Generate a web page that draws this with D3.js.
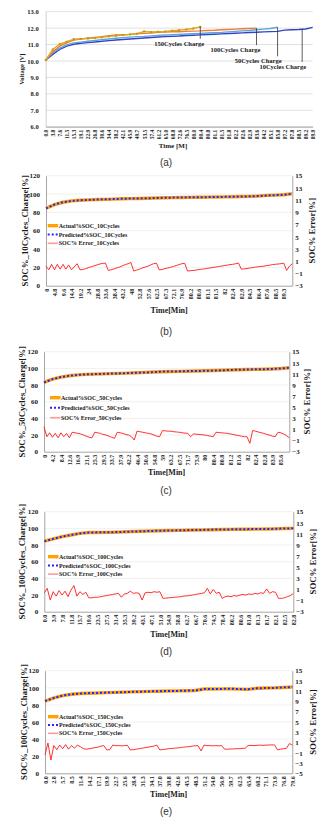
<!DOCTYPE html>
<html>
<head>
<meta charset="utf-8">
<script src="https://cdn.jsdelivr.net/npm/d3@7"></script>
<style>
  body { margin: 0; background: #fff; }
  svg { display: block; }
  text { font-family: "Liberation Serif", "Times New Roman", serif; font-weight: bold; fill: #1a1a1a; }
  text.cap { font-family: "Liberation Sans", Arial, sans-serif; font-weight: normal; fill: #333; }
</style>
</head>
<body>
<script>
// ---- (a) charging voltage, one value per category ----
const voltCats = ["0.0","3.8","7.6","11.5","15.3","19.1","22.9","26.8","30.6","34.4","38.2","42.1","45.9","49.7","53.5","57.4","61.2","65.0","68.8","72.6","76.5","80.0","80.4","80.8","81.1","81.5","81.8","82.2","82.6","82.9","83.6","84.2","85.1","85.8","87.2","87.8","88.5","89.2","89.9"];
const volt10 = [10.05,10.4,10.7,10.9,11.02,11.08,11.12,11.16,11.2,11.24,11.28,11.31,11.34,11.37,11.4,11.43,11.46,11.48,11.5,11.52,11.55,11.57,11.59,11.61,11.63,11.65,11.67,11.69,11.71,11.73,11.75,11.77,11.79,11.8,11.88,11.9,11.92,11.95,12.05];
const volt50 = [10.05,10.5,10.78,10.98,11.1,11.15,11.2,11.25,11.3,11.34,11.38,11.42,11.45,11.48,11.5,11.53,11.56,11.58,11.6,11.62,11.64,11.66,11.68,11.7,11.72,11.74,11.77,11.8,11.83,11.86,11.9,11.94,11.98,12.05];
const volt100 = [10.05,10.56,10.9,11.1,11.27,11.33,11.4,11.44,11.48,11.54,11.58,11.6,11.62,11.66,11.68,11.7,11.74,11.76,11.78,11.78,11.8,11.82,11.83,11.86,11.87,11.9,11.92,11.94,11.96,11.98,12.0];
const volt150 = [10.05,10.7,11.03,11.17,11.33,11.35,11.37,11.4,11.44,11.5,11.54,11.58,11.62,11.66,11.8,11.76,11.78,11.8,11.84,11.88,11.92,11.98,12.08];
const voltNotes = ["150Cycles Charge","100Cycles Charge","50Cycles Charge","10Cycles Charge"];
const voltNoteAt = [22, 30, 33, 36.5];   // category index the note points at

// ---- (b)-(e) SOC: SOC sampled every socStep error samples ----
const socStep = 3;

const cats10 = ["0","4.8","9.6","14.4","19.2","24","28.8","33.6","38.4","43.2","48","52.8","57.6","62.5","67.3","72.1","76.9","80.2","80.6","81.1","81.5","82","82.4","82.9","84.5","86.4","87.6","88.5","89.3"];
const act10 = [84.5,88.5,91,92.5,93.2,93.6,94,94.2,94.5,94.8,95,95.2,95.4,95.7,96,96.1,96.2,96.4,96.5,96.6,96.8,96.9,97,97.3,97.5,97.8,98.5,98.8,99.2,100.5];
const pred10 = [84.3,88.6,91.1,92.4,93.3,93.6,94.0,94.3,94.5,94.8,95.1,95.2,95.4,95.7,95.9,96.1,96.3,96.4,96.5,96.6,96.8,96.9,97.0,97.3,97.5,97.8,98.4,98.8,99.2,100.3];
const err10 = [0.2,-0.4,0.5,-0.4,0.5,-0.3,0.5,-0.3,0.4,
  -0.4,0.1,0.6,-0.4,
  -0.35,-0.2,-0.05,0.1,0.25,0.4,0.55,0.65,0.7,-0.5,
  -0.4,-0.25,-0.1,0.05,0.25,0.45,0.6,0.8,-0.6,
  -0.45,-0.3,-0.1,0.05,0.2,0.4,0.6,0.7,-0.4,
  -0.35,-0.2,-0.1,0.0,0.15,0.3,0.45,0.6,0.65,-0.6,
  -0.55,-0.5,-0.45,-0.35,-0.3,-0.25,-0.15,-0.1,0.0,0.05,0.15,0.2,0.3,0.35,0.45,0.5,0.6,0.7,-0.3,
  -0.25,-0.2,-0.1,-0.05,0.05,0.1,0.15,0.2,0.3,0.35,0.45,0.5,0.55,0.6,0.7,
  -0.5,0.2,0.6];

const cats50 = ["0","4.2","8.4","12.6","16.9","21.1","25.3","29.5","33.7","37.9","42.2","46.4","50.6","54.8","59","63.2","67.5","71.7","75.9","80","80.4","80.8","81.2","81.6","82","82.4","82.8","83.9","85.6"];
const act50 = [83.2,87,89.5,91.2,92.2,92.8,93.1,93.4,93.7,94,94.3,94.8,95.2,95.6,96,96.2,96.4,96.6,96.8,97.1,97.4,97.7,98,98.3,98.6,98.8,99,99.3,99.8,100.8];
const pred50 = [83.0,87.1,89.6,91.1,92.2,92.9,93.1,93.4,93.8,94,94.4,94.8,95.1,95.6,96.1,96.2,96.4,96.7,96.8,97.1,97.3,97.7,98.1,98.3,98.6,98.9,99,99.3,99.9,100.7];
const err50 = [1.5,-0.3,0.4,-0.4,0.3,-0.5,0.4,-0.3,0.3,-0.5,
  0.5,0.4,0.3,0.2,0.0,-0.2,-0.4,-0.5,
  0.5,0.4,0.3,0.1,0.0,-0.2,-0.4,-0.6,
  0.5,0.4,0.3,0.1,0.0,-0.3,-0.9,
  0.7,0.6,0.5,0.4,0.3,0.2,0.0,-0.2,-0.3,
  0.8,0.75,0.7,0.7,0.6,0.55,0.5,0.4,0.35,0.3,-0.3,0.2,0.15,0.1,0.05,0.0,-0.1,-0.2,-0.3,
  0.5,0.45,0.4,0.35,0.3,0.2,0.1,0.0,-0.1,-0.2,-0.3,-0.3,-1.5,
  0.8,0.7,0.55,0.4,0.3,0.1,0.0,-0.2,-0.3,
  0.5,0.4,0.2,-0.1,-0.5];

const cats100 = ["0.0","3.9","7.8","11.8","15.7","19.6","23.5","27.5","31.4","35.3","39.2","43.1","47.1","51.0","54.9","58.8","62.7","66.7","70.6","74.5","78.4","80.2","80.6","81.0","81.3","81.7","82.1","82.5","82.8"];
const act100 = [84.6,87.3,90,92,94,95,95.1,95.2,95.4,95.8,96.2,96.6,96.9,97.1,97.4,97.6,97.8,98,98.2,98.4,98.6,98.8,98.9,99,99.1,99.2,99.4,99.8,100];
const pred100 = [84.4,87.4,90.1,92,93.9,95,95.2,95.2,95.5,95.8,96.2,96.5,96.9,97.2,97.4,97.6,97.9,98,98.2,98.5,98.6,98.8,98.9,99.1,99.1,99.2,99.5,99.8,100.1];
const err100 = [0.4,1.2,-0.9,0.6,-0.2,0.8,0.0,0.7,-0.3,0.9,1.7,-0.2,0.6,0.1,0.5,
  -0.5,-0.5,-0.4,-0.4,-0.3,-0.2,-0.1,0.0,0.1,0.2,0.3,
  -0.4,0.2,0.3,0.7,0.3,0.4,0.3,-0.9,
  0.4,0.5,0.4,0.6,0.5,0.6,
  -0.6,-0.55,-0.5,-0.45,-0.4,-0.35,-0.3,-0.2,-0.15,-0.1,0.0,0.1,0.2,0.3,0.4,
  1.2,0.2,1.0,0.3,0.5,
  -0.6,-0.3,-0.2,-0.3,-0.1,-0.2,0.0,0.1,0.0,0.2,0.1,0.3,0.2,0.4,0.3,1.1,0.3,0.6,0.5,
  -0.6,-0.6,-0.5,-0.3,-0.1,0.3];

const cats150 = ["0.0","2.8","5.7","8.5","11.4","14.2","17.1","19.9","22.7","25.6","28.4","31.3","34.1","37.0","39.8","42.6","45.5","48.3","51.2","54.0","56.9","59.7","62.5","65.4","68.2","71.1","73.9","76.8","79.6"];
const act150 = [84.3,88.2,90.8,92.5,93.3,93.7,94,94.3,94.6,94.9,95.2,95.5,95.8,96,96.2,96.4,96.6,96.8,98.6,98.6,98.7,98.8,98.5,98.2,99.5,99.7,99.9,100.4,101];
const pred150 = [84.6,88,90.9,92.4,93.3,93.8,94,94.4,94.6,94.9,95.3,95.5,95.8,96.1,96.2,96.4,96.7,96.8,98.5,98.6,98.7,98.9,98.5,98.3,99.4,99.7,99.9,100.5,100.9];
const err150 = [-1.4,0.9,-2.4,0.4,-0.4,0.5,-0.2,0.6,-0.3,0.4,-0.1,0.5,0.2,-0.2,
  -0.3,-0.2,-0.1,0.0,0.1,0.3,0.4,
  -0.45,-0.4,0.5,0.4,0.4,0.35,0.4,0.45,
  -0.45,-0.4,-0.3,-0.2,-0.1,0.0,0.1,0.2,0.3,0.5,
  -0.45,-0.35,-0.3,-0.2,-0.15,-0.1,-0.05,0.0,0.1,0.15,0.2,0.3,0.35,0.4,-0.65,
  0.5,0.4,0.4,0.35,0.4,0.35,0.4,
  -0.3,-0.3,-0.25,-0.25,-0.2,-0.2,-0.15,-0.1,
  0.4,0.45,0.4,0.45,0.5,0.45,0.5,0.5,0.55,0.5,
  -0.45,-0.3,-0.2,-0.15,0.8,0.5];

const svg = d3.select("body").append("svg").attr("width", 333).attr("height", 828);

function axisText(sel, size) {
  sel.attr("font-size", size).attr("font-family", null);
  sel.select(".domain").attr("stroke", "#a6a6a6");
  sel.selectAll(".tick line").remove();
}

function rotateLabels(sel) {
  sel.selectAll(".tick text")
    .attr("transform", "rotate(-90)")
    .attr("text-anchor", "end")
    .attr("x", -3).attr("y", 0).attr("dy", "0.35em");
}

function caption(label, y) {
  svg.append("text").attr("class", "cap").attr("x", 166).attr("y", y)
    .attr("dy", "0.35em").attr("text-anchor", "middle").attr("font-size", 10).text(label);
}

function voltagePanel() {
  const left = 45.7, right = 312.7, top = 11.7, bottom = 126.7;
  const x = d3.scaleLinear([0, voltCats.length - 1], [left, right]);
  const y = d3.scaleLinear([6, 13], [bottom, top]);
  const g = svg.append("g");

  g.append("g").selectAll("line").data(y.ticks(7)).join("line")
    .attr("x1", left).attr("x2", right).attr("y1", y).attr("y2", y)
    .attr("stroke", "#d9d9d9").attr("stroke-width", 0.8);

  g.append("g").attr("transform", `translate(${left},0)`)
    .call(d3.axisLeft(y).ticks(7).tickFormat(d3.format(".1f")).tickSize(0).tickSizeOuter(0).tickPadding(7))
    .call(axisText, 6.5)
    .call(s => s.select(".domain").attr("stroke", "#d0d0d0"));

  g.append("g").attr("transform", `translate(0,${bottom})`)
    .call(d3.axisBottom(x).tickValues(d3.range(voltCats.length)).tickFormat(i => voltCats[i]).tickSize(0).tickSizeOuter(0))
    .call(axisText, 5.5)
    .call(rotateLabels);

  g.append("text").attr("transform", `translate(22,${(top + bottom) / 2}) rotate(-90)`)
    .attr("text-anchor", "middle").attr("dy", "0.35em").attr("font-size", 6.5).text("Voltage [V]");
  g.append("text").attr("x", 173).attr("y", 146).attr("text-anchor", "middle")
    .attr("dy", "0.35em").attr("font-size", 7).text("Time [M]");

  const series = [
    { values: volt10, color: "#3343c4" },
    { values: volt50, color: "#5aa5dc" },
    { values: volt100, color: "#ee7d31" },
    { values: volt150, color: "#dcaa22" }
  ];
  const line = d3.line().x((d, i) => x(i)).y(d => y(d));
  series.forEach(s => {
    g.append("path").attr("d", line(s.values))
      .attr("fill", "none").attr("stroke", s.color).attr("stroke-width", 1.4);
  });
  g.append("g").selectAll("rect").data(volt150).join("rect")
    .attr("x", (d, i) => x(i) - 1).attr("y", d => y(d) - 1)
    .attr("width", 2).attr("height", 2).attr("fill", "#c8951a");

  // notes: a drop line from each curve down to its label
  const noteSeries = [volt150, volt100, volt50, volt10];
  const drop = [12, 17, 29, 33];
  voltNotes.forEach((t, k) => {
    const at = voltNoteAt[k];
    const vals = noteSeries[k];
    const x0 = x(at), y0 = y(vals[Math.min(Math.ceil(at), vals.length - 1)]);
    g.append("line").attr("x1", x0).attr("x2", x0).attr("y1", y0).attr("y2", y0 + drop[k])
      .attr("stroke", "#333").attr("stroke-width", 0.8);
    g.append("text").attr("x", x0 + 4).attr("y", y0 + drop[k] + 4.5).attr("dy", "0.35em")
      .attr("text-anchor", "end").attr("font-size", 6.5).text(t);
  });

  caption("(a)", 162);
}

function socPanel(p) {
  const g = svg.append("g");
  const n = p.err.length;
  const x = d3.scaleLinear([0, n - 1], [p.left, p.right]);
  const y = d3.scaleLinear([0, 120], [p.bottom, p.top]);
  const y2 = d3.scaleLinear([p.errMin, 15], [p.bottom, p.top]);
  const midY = (p.top + p.bottom) / 2;

  g.append("g").selectAll("line").data(d3.range(20, 121, 20)).join("line")
    .attr("x1", p.left).attr("x2", p.right).attr("y1", y).attr("y2", y)
    .attr("stroke", "#ececec").attr("stroke-width", 0.8);

  g.append("g").attr("transform", `translate(${p.left},0)`)
    .call(d3.axisLeft(y).tickValues(d3.range(0, 121, 20)).tickSize(0).tickSizeOuter(0).tickPadding(6))
    .call(axisText, 7);

  g.append("g").attr("transform", `translate(${p.right},0)`)
    .call(d3.axisRight(y2).tickValues(d3.range(p.errMin, 16, 2)).tickSize(0).tickSizeOuter(0).tickPadding(3))
    .call(axisText, 7);

  g.append("g").attr("transform", `translate(0,${p.bottom})`)
    .call(d3.axisBottom(x).tickValues(p.cats.map((c, j) => j * socStep))
      .tickFormat(d => p.cats[d / socStep]).tickSize(0).tickSizeOuter(0))
    .call(axisText, 6)
    .call(rotateLabels);

  g.append("text").attr("transform", `translate(${p.leftTitleX},${midY}) rotate(-90)`)
    .attr("text-anchor", "middle").attr("dy", "0.35em").attr("font-size", 8.8).text(p.yTitle);
  g.append("text").attr("transform", `translate(${p.rightTitleX},${midY}) rotate(-90)`)
    .attr("text-anchor", "middle").attr("dy", "0.35em").attr("font-size", 8.8).text("SOC% Error[%]");
  g.append("text").attr("x", (p.left + p.right) / 2).attr("y", p.timeY)
    .attr("text-anchor", "middle").attr("dy", "0.35em").attr("font-size", 8).text("Time[Min]");

  const soc = d3.line().x((d, i) => x(i * socStep)).y(d => y(d));
  const err = d3.line().x((d, i) => x(i)).y(d => y2(d));

  g.append("path").attr("d", err(p.err)).attr("fill", "none")
    .attr("stroke", "#ff1a1a").attr("stroke-width", 0.9);
  g.append("path").attr("d", soc(p.actual)).attr("fill", "none")
    .attr("stroke", "#ffa20a").attr("stroke-width", 3.4);
  g.append("path").attr("d", soc(p.pred)).attr("fill", "none")
    .attr("stroke", "#2424ff").attr("stroke-width", 2).attr("stroke-dasharray", "2,2");

  // legend
  const items = [
    { label: `Actual%SOC_${p.tag}`, stroke: "#ffa20a", width: 3.4, dash: null },
    { label: `Predicted%SOC_${p.tag}`, stroke: "#2424ff", width: 2, dash: "2,2" },
    { label: `SOC% Error_${p.tag}`, stroke: "#ff9a9a", width: 1.6, dash: null }
  ];
  const lg = g.append("g").attr("transform", `translate(${p.legendX},${p.legendY})`);
  items.forEach((it, k) => {
    const row = lg.append("g").attr("transform", `translate(0,${k * p.legendDy})`);
    row.append("line").attr("x1", 0).attr("x2", 10.5).attr("stroke", it.stroke)
      .attr("stroke-width", it.width).attr("stroke-dasharray", it.dash);
    row.append("text").attr("x", 11).attr("dy", "0.35em").attr("font-size", 6).text(it.label);
  });

  caption(p.caption, p.captionY);
}

voltagePanel();

socPanel({ cats: cats10, actual: act10, pred: pred10, err: err10, tag: "10Cycles",
  yTitle: "SOC%_10Cycles_Charge[%]", errMin: -3,
  left: 46, right: 292.3, top: 175.7, bottom: 285.7,
  leftTitleX: 25, rightTitleX: 311.7, timeY: 310,
  legendX: 47.7, legendY: 225.7, legendDy: 8.8, caption: "(b)", captionY: 331 });

socPanel({ cats: cats50, actual: act50, pred: pred50, err: err50, tag: "50Cycles",
  yTitle: "SOC%_50Cycles_Charge[%]", errMin: -3,
  left: 44, right: 289.3, top: 351.7, bottom: 451.7,
  leftTitleX: 21.7, rightTitleX: 306.7, timeY: 471.7,
  legendX: 50, legendY: 397.7, legendDy: 10, caption: "(c)", captionY: 490 });

socPanel({ cats: cats100, actual: act100, pred: pred100, err: err100, tag: "100Cycles",
  yTitle: "SOC%_100Cycles_Charge[%]", errMin: -3,
  left: 44.3, right: 293.3, top: 511.7, bottom: 611.7,
  leftTitleX: 21.7, rightTitleX: 313.3, timeY: 634,
  legendX: 48, legendY: 556.7, legendDy: 8.7, caption: "(d)", captionY: 651 });

socPanel({ cats: cats150, actual: act150, pred: pred150, err: err150, tag: "150Cycles",
  yTitle: "SOC%_100Cycles_Charge[%]", errMin: -5,
  left: 45, right: 292.3, top: 670.7, bottom: 773.3,
  leftTitleX: 24, rightTitleX: 313.3, timeY: 794.3,
  legendX: 48, legendY: 716.7, legendDy: 8.3, caption: "(e)", captionY: 811.7 });
</script>
</body>
</html>
